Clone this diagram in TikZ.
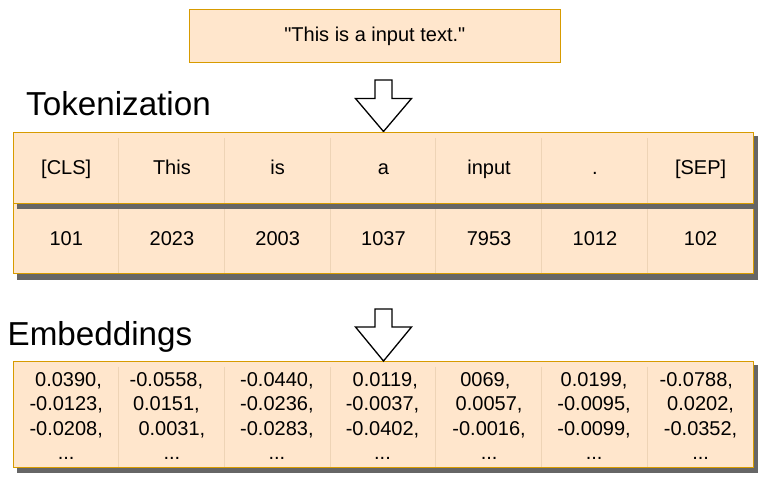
\documentclass[tikz,border=0pt]{standalone}
\usepackage{fontspec}
\setmainfont{Liberation Sans}
\newfontfamily\plainarial{Liberation Sans}
\definecolor{cellfill}{HTML}{FFE6CC}
\definecolor{cellborder}{HTML}{D79B00}
\definecolor{divline}{RGB}{238,212,182}
\definecolor{shadowgray}{RGB}{102,102,102}
\begin{document}
\begin{tikzpicture}[x=1pt,y=-1pt,
  body/.style={font=\fontsize{20}{24.5}\selectfont},
  titletext/.style={font=\fontsize{33.2}{40}\selectfont, anchor=base west, inner sep=0pt},
  rowbox/.style={fill=cellfill, draw=cellborder, line width=1pt, inner sep=0pt},
  divider/.style={draw=divline, line width=0.8pt},
  blockarrow/.style={draw=black, fill=white, line width=1.3pt, line join=miter},
  celltext/.style={body, anchor=base, inner sep=0pt},
  embtext/.style={body, align=center, inner sep=0pt},
]
\useasboundingbox (0,0) rectangle (773,485);

% input text box
\node[rowbox, font=\plainarial\fontsize{20}{24.5}\selectfont, minimum width=371pt, minimum height=53.4pt] (inp) at (374.8,36) {"This is a input text."};

% titles
\node[titletext] (toktitle) at (26,115) {Tokenization};
\node[titletext] (embtitle) at (7.5,345) {Embeddings};

% arrow 1
\coordinate (a1tip) at (383.5,131.5);
\draw[blockarrow] (375,80) -- (392,80) -- (392,98.5) -- (411.5,98.5) -- (a1tip) -- (355.5,98.5) -- (375,98.5) -- cycle;

% row 2 (ids)
\fill[shadowgray] (17.3,209) rectangle (757.5,279.5);
\node[rowbox, minimum width=740.2pt, minimum height=70.4pt] (row2) at (383.4,238.5) {};
\foreach \k in {1,...,6}
  \draw[divider] ([xshift=\k*105.74pt, yshift=-1pt]row2.north west) -- ([xshift=\k*105.74pt, yshift=1pt]row2.south west);

% row 1 (tokens)
\fill[shadowgray] (17.3,136.3) rectangle (757.5,209);
\node[rowbox, minimum width=740.2pt, minimum height=71pt] (row1) at (383.4,167.8) {};
\foreach \k in {1,...,6}
  \draw[divider] ([xshift=\k*105.74pt, yshift=-6pt]row1.north west) -- ([xshift=\k*105.74pt, yshift=1pt]row1.south west);

% token texts
\node[celltext] (tok1) at (66.2,174) {[CLS]};
\node[celltext] (tok2) at (171.9,174) {This};
\node[celltext] (tok3) at (277.7,174) {is};
\node[celltext] (tok4) at (383.4,174) {a};
\node[celltext] (tok5) at (489.1,174) {input};
\node[celltext] (tok6) at (594.9,174) {.};
\node[celltext] (tok7) at (700.6,174) {[SEP]};

% id texts
\node[celltext] (id1) at (66.2,245) {101};
\node[celltext] (id2) at (171.9,245) {2023};
\node[celltext] (id3) at (277.7,245) {2003};
\node[celltext] (id4) at (383.4,245) {1037};
\node[celltext] (id5) at (489.1,245) {7953};
\node[celltext] (id6) at (594.9,245) {1012};
\node[celltext] (id7) at (700.6,245) {102};

% embeddings row
\fill[shadowgray] (17.3,365) rectangle (757.5,472.5);
\node[rowbox, minimum width=740.2pt, minimum height=106pt] (emb) at (383.4,414) {};
\foreach \k in {1,...,6}
  \draw[divider] ([xshift=\k*105.74pt, yshift=-6pt]emb.north west) -- ([xshift=\k*105.74pt, yshift=1pt]emb.south west);

\node[embtext] (emb1) at (66.2,416.2) {\kern4.6pt 0.0390,\\-0.0123,\\-0.0208,\\...};
\node[embtext] (emb2) at (171.9,416.2) {-0.0558,\kern11pt\\0.0151,\kern11pt\\0.0031,\\...};
\node[embtext] (emb3) at (276.9,416.2) {-0.0440,\\-0.0236,\\-0.0283,\\...};
\node[embtext] (emb4) at (382.5,416.2) {\kern5.6pt 0.0119,\\-0.0037,\\-0.0402,\\...};
\node[embtext] (emb5) at (489.1,416.2) {0069,\kern7.6pt\\0.0057,\\-0.0016,\\...};
\node[embtext] (emb6) at (594.1,416.2) {0.0199,\\-0.0095,\\-0.0099,\\...};
\node[embtext] (emb7) at (700.6,416.2) {-0.0788,\kern8.6pt\\0.0202,\\-0.0352,\\...};

% arrow 2
\coordinate (a2tip) at (383.5,361);
\draw[blockarrow] (375,309) -- (392,309) -- (392,327) -- (411.5,327) -- (a2tip) -- (355.5,327) -- (375,327) -- cycle;
\end{tikzpicture}
\end{document}
